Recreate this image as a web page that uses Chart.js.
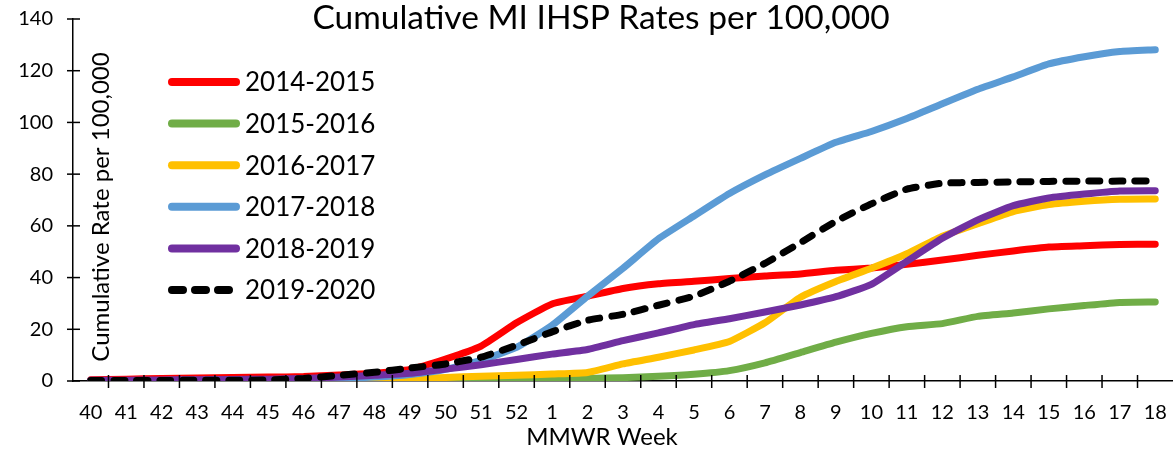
<!DOCTYPE html>
<html>
<head>
<meta charset="utf-8">
<script src="https://cdn.jsdelivr.net/npm/chart.js@4/dist/chart.umd.min.js"></script>
<style>
  html, body { margin: 0; padding: 0; background: #fff; }
  #wrap { width: 1173px; height: 450px; position: relative; }
</style>
</head>
<body>
<div id="wrap"><canvas id="chart"></canvas></div>
<script>
// MMWR weeks, week 40 through week 18 of the next year
const weeks = ['40', '41', '42', '43', '44', '45', '46', '47', '48', '49', '50', '51', '52',
  '1', '2', '3', '4', '5', '6', '7', '8', '9', '10', '11', '12', '13', '14', '15', '16', '17', '18'];

const season1415 = [0.5, 0.7, 1.0, 1.2, 1.4, 1.5, 1.7, 2.3, 3.0, 4.5, 8.5, 13.5, 22.5,
  29.8, 32.8, 35.8, 37.6, 38.6, 39.6, 40.6, 41.4, 42.8, 43.7, 45.1, 46.8, 48.6, 50.3, 51.8, 52.3, 52.8, 52.9];
const season1516 = [0, 0, 0, 0, 0, 0, 0, 0, 0, 0.1, 0.2, 0.3, 0.4,
  0.6, 1.0, 1.3, 1.8, 2.6, 4.0, 7.0, 11.0, 15.0, 18.4, 21.0, 22.2, 25.0, 26.3, 27.9, 29.2, 30.4, 30.6];
const season1617 = [0, 0, 0, 0, 0, 0, 0.1, 0.3, 0.5, 0.8, 1.4, 1.8, 2.2,
  2.7, 3.3, 6.6, 9.2, 12.0, 15.3, 22.5, 32.4, 38.5, 43.6, 49.2, 56.0, 60.8, 65.5, 68.2, 69.5, 70.3, 70.4];
const season1718 = [0.2, 0.2, 0.2, 0.3, 0.3, 0.4, 0.6, 1.0, 1.5, 2.5, 4.5, 8.0, 13.0,
  21.5, 32.8, 43.6, 55.0, 63.8, 72.5, 79.7, 86.1, 92.3, 96.5, 101.5, 107.2, 112.8, 117.6, 122.6, 125.4, 127.4, 128.1];
const season1819 = [0.3, 0.3, 0.4, 0.5, 0.6, 0.7, 1.0, 1.5, 2.2, 3.0, 4.6, 6.3, 8.3,
  10.4, 12.2, 15.6, 18.6, 21.8, 24.1, 26.7, 29.4, 32.6, 37.4, 46.3, 55.2, 62.3, 67.8, 70.8, 72.3, 73.5, 73.6];
const season1920 = [0.2, 0.2, 0.2, 0.3, 0.3, 0.4, 1.0, 2.2, 3.4, 5.0, 6.6, 9.2, 13.8,
  19.0, 23.5, 25.8, 29.3, 32.8, 38.6, 45.5, 53.5, 61.8, 68.5, 74.2, 76.5, 76.8, 77.0, 77.2, 77.3, 77.3, 77.4];

const seasonLabels = ['2014-2015', '2015-2016', '2016-2017', '2017-2018', '2018-2019', '2019-2020'];
const yTicks = [0, 20, 40, 60, 80, 100, 120, 140];

const colors = ['#FF0000', '#70AD47', '#FFC000', '#5B9BD5', '#7030A0', '#000000'];
const FONT = 'Lato, "Open Sans", sans-serif';

const makeLine = (i, data, dash) => ({
  label: seasonLabels[i],
  data: data,
  borderColor: colors[i],
  backgroundColor: colors[i],
  borderWidth: 7,
  borderDash: dash || [],
  borderCapStyle: 'round',
  borderJoinStyle: 'round',
  pointRadius: 0,
  tension: 0.15,
  fill: false,
  order: 6 - i, // later series on top, like the original
});

// titles, legend and the inner half of the tick marks
const decorations = {
  id: 'decorations',
  afterDraw(chart) {
    const { ctx, chartArea, scales } = chart;
    ctx.save();

    ctx.strokeStyle = '#000';
    ctx.lineWidth = 1.5;
    const y0 = chartArea.bottom;
    const step = (chartArea.right - chartArea.left) / weeks.length;
    for (let i = 1; i < weeks.length; i++) {
      const x = scales.x.getPixelForValue(i) - step / 2;
      ctx.beginPath();
      ctx.moveTo(x, y0 - 6);
      ctx.lineTo(x, y0 + 7);
      ctx.stroke();
    }
    const x0 = chartArea.left;
    yTicks.forEach(v => {
      const y = scales.y.getPixelForValue(v);
      ctx.beginPath();
      ctx.moveTo(x0 - 6, y);
      ctx.lineTo(x0 + 7, y);
      ctx.stroke();
    });

    // title
    ctx.fillStyle = '#000';
    ctx.font = '33.5px ' + FONT;
    ctx.textAlign = 'center';
    ctx.textBaseline = 'middle';
    ctx.fillText('Cumulative MI IHSP Rates per 100,000', 601, 18);

    // x axis title
    ctx.font = '24px ' + FONT;
    ctx.fillText('MMWR Week', 602, 437);

    // y axis title inside the plot
    ctx.save();
    ctx.translate(101, 207);
    ctx.rotate(-Math.PI / 2);
    ctx.font = '24px ' + FONT;
    ctx.fillText('Cumulative Rate per 100,000', 0, 0);
    ctx.restore();

    // legend
    ctx.font = '26px ' + FONT;
    ctx.textAlign = 'left';
    chart.data.datasets.forEach((ds, i) => {
      const y = 82 + i * 41.6;
      ctx.strokeStyle = ds.borderColor;
      ctx.lineWidth = 8;
      ctx.lineCap = 'round';
      ctx.setLineDash(ds.borderDash);
      ctx.beginPath();
      ctx.moveTo(172, y);
      ctx.lineTo(236, y);
      ctx.stroke();
      ctx.setLineDash([]);
      ctx.fillStyle = '#000';
      ctx.fillText(ds.label, 245, y + 1);
    });
    ctx.restore();
  }
};

new Chart(document.getElementById('chart'), {
  type: 'line',
  data: {
    labels: weeks,
    datasets: [
      makeLine(0, season1415),
      makeLine(1, season1516),
      makeLine(2, season1617),
      makeLine(3, season1718),
      makeLine(4, season1819),
      makeLine(5, season1920, [11, 12]),
    ],
  },
  options: {
    responsive: true,
    maintainAspectRatio: false,
    animation: false,
    layout: {
      padding: { top: 19, right: 0, bottom: 0, left: 0 },
    },
    scales: {
      x: {
        offset: true,
        grid: { display: true, drawOnChartArea: false, drawTicks: true, tickLength: 16, color: 'rgba(0,0,0,0)' },
        border: { display: true, color: '#000', width: 1.5 },
        ticks: {
          color: '#000',
          font: { family: FONT, size: 20 },
          maxRotation: 0,
          autoSkip: false,
          padding: 4,
        },
        afterFit: (scale) => { scale.height = 450 - 381; },
      },
      y: {
        min: 0,
        max: 140,
        grid: { display: false },
        border: { display: true, color: '#000', width: 1.5 },
        afterBuildTicks: (scale) => { scale.ticks = yTicks.map(v => ({ value: v })); },
        ticks: {
          color: '#000',
          font: { family: FONT, size: 20 },
          padding: 12,
        },
        afterFit: (scale) => {
          scale.width = 73;
          scale.paddingTop = 0;
          scale.paddingBottom = 0;
        },
      },
    },
    plugins: {
      legend: { display: false },
      tooltip: { enabled: false },
    },
  },
  plugins: [decorations],
});
</script>
</body>
</html>
